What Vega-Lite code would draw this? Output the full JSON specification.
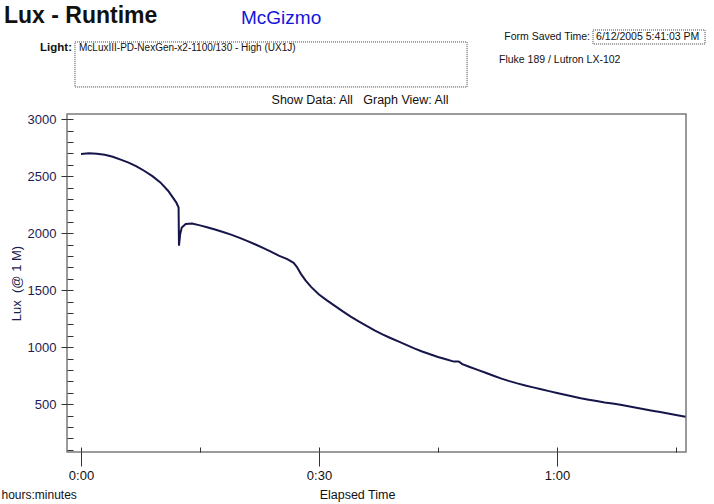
{
  "$schema": "https://vega.github.io/schema/vega-lite/v6.json",
  "width": 619,
  "height": 338,
  "autosize": "none",
  "padding": {"left": 67, "top": 114, "right": 28, "bottom": 52},
  "background": "white",
  "config": {
    "font": "Liberation Sans",
    "view": {"stroke": "#7a7a7a", "strokeWidth": 1.5},
    "axis": {"grid": false, "domain": false, "labelFont": "Liberation Sans", "titleFont": "Liberation Sans"}
  },
  "datasets": {
    "curve": [
      {"minute": 0, "lux": 2695}, {"minute": 1, "lux": 2700}, {"minute": 2, "lux": 2697},
      {"minute": 3, "lux": 2688}, {"minute": 4, "lux": 2670}, {"minute": 5, "lux": 2645},
      {"minute": 6, "lux": 2618}, {"minute": 7, "lux": 2585}, {"minute": 8, "lux": 2545},
      {"minute": 9, "lux": 2500}, {"minute": 10, "lux": 2445}, {"minute": 11, "lux": 2370},
      {"minute": 12, "lux": 2270}, {"minute": 12.3, "lux": 2225}, {"minute": 12.35, "lux": 1890},
      {"minute": 12.5, "lux": 1990}, {"minute": 12.7, "lux": 2050}, {"minute": 13.2, "lux": 2080},
      {"minute": 14, "lux": 2085}, {"minute": 15, "lux": 2068}, {"minute": 16, "lux": 2050},
      {"minute": 17, "lux": 2030}, {"minute": 18, "lux": 2008}, {"minute": 19, "lux": 1985},
      {"minute": 20, "lux": 1958}, {"minute": 21, "lux": 1930}, {"minute": 22, "lux": 1900},
      {"minute": 23, "lux": 1868}, {"minute": 24, "lux": 1835}, {"minute": 25, "lux": 1800},
      {"minute": 26, "lux": 1772}, {"minute": 26.8, "lux": 1740}, {"minute": 27.2, "lux": 1705},
      {"minute": 27.7, "lux": 1645}, {"minute": 28.3, "lux": 1585}, {"minute": 29, "lux": 1528},
      {"minute": 30, "lux": 1462}, {"minute": 31, "lux": 1410}, {"minute": 32, "lux": 1362},
      {"minute": 33, "lux": 1313}, {"minute": 34, "lux": 1268}, {"minute": 35, "lux": 1226},
      {"minute": 36, "lux": 1187}, {"minute": 37, "lux": 1147}, {"minute": 38, "lux": 1112},
      {"minute": 39, "lux": 1080}, {"minute": 40, "lux": 1050}, {"minute": 41, "lux": 1020},
      {"minute": 42, "lux": 989}, {"minute": 43, "lux": 962}, {"minute": 44, "lux": 937},
      {"minute": 45, "lux": 914}, {"minute": 46, "lux": 893}, {"minute": 47, "lux": 873},
      {"minute": 47.6, "lux": 874}, {"minute": 47.9, "lux": 860},
      {"minute": 48, "lux": 853}, {"minute": 49, "lux": 826}, {"minute": 50, "lux": 800},
      {"minute": 51, "lux": 775}, {"minute": 52, "lux": 749}, {"minute": 53, "lux": 724},
      {"minute": 54, "lux": 702}, {"minute": 55, "lux": 682}, {"minute": 56, "lux": 664},
      {"minute": 57, "lux": 647}, {"minute": 58, "lux": 630}, {"minute": 59, "lux": 614},
      {"minute": 60, "lux": 598}, {"minute": 61, "lux": 583}, {"minute": 62, "lux": 567},
      {"minute": 63, "lux": 552}, {"minute": 64, "lux": 539}, {"minute": 65, "lux": 527},
      {"minute": 66, "lux": 515}, {"minute": 67, "lux": 505}, {"minute": 68, "lux": 494},
      {"minute": 69, "lux": 481}, {"minute": 70, "lux": 468}, {"minute": 71, "lux": 455},
      {"minute": 72, "lux": 442}, {"minute": 73, "lux": 430}, {"minute": 74, "lux": 417},
      {"minute": 75, "lux": 404}, {"minute": 76.2, "lux": 390}
    ]
  },
  "resolve": {"axis": {"x": "independent", "y": "independent"}},
  "layer": [
    {
      "data": {"name": "curve"},
      "mark": {"type": "line", "color": "#15154a", "strokeWidth": 2, "clip": true},
      "encoding": {
        "x": {
          "field": "minute", "type": "quantitative",
          "scale": {"domain": [-1.765, 76.26], "nice": false, "zero": false},
          "axis": {
            "orient": "bottom", "values": [0, 15, 30, 45, 60, 75], "tickSize": -5,
            "tickColor": "#333", "labels": false, "title": "hours:minutes",
            "titleFontSize": 12, "titleFontWeight": "normal", "titleColor": "#111",
            "titleAnchor": "start", "titleAlign": "left", "titleX": -66, "titleY": 42, "titleBaseline": "middle"
          }
        },
        "y": {
          "field": "lux", "type": "quantitative",
          "scale": {"domain": [80, 3045], "nice": false, "zero": false},
          "axis": {
            "orient": "left", "values": [100, 200, 300, 400, 500, 600, 700, 800, 900, 1000, 1100, 1200, 1300, 1400, 1500, 1600, 1700, 1800, 1900, 2000, 2100, 2200, 2300, 2400, 2500, 2600, 2700, 2800, 2900, 3000],
            "tickSize": -6, "tickColor": "#333", "labels": false, "title": null
          }
        }
      }
    },
    {
      "data": {"name": "curve"},
      "mark": {"type": "point", "opacity": 0},
      "encoding": {
        "x": {
          "field": "minute", "type": "quantitative",
          "axis": {
            "orient": "bottom", "values": [0, 30, 60], "tickSize": 14, "tickColor": "#333",
            "labelExpr": "floor(datum.value/60) + ':' + (datum.value % 60 < 10 ? '0' : '') + (datum.value % 60)",
            "labelFontSize": 13, "labelColor": "#111", "labelPadding": 3,
            "title": "Elapsed Time", "titleFontSize": 12.5, "titleFontWeight": "normal", "titleColor": "#111",
            "titleAnchor": "start", "titleAlign": "center", "titleX": 290, "titleY": 42, "titleBaseline": "middle"
          }
        },
        "y": {
          "field": "lux", "type": "quantitative",
          "axis": {
            "orient": "left", "values": [500, 1000, 1500, 2000, 2500, 3000], "tickSize": 6, "tickColor": "#333",
            "format": "d",
            "labelFontSize": 13, "labelColor": "#1c1c50", "labelPadding": 5,
            "title": "Lux\u00a0\u00a0(@ 1 M)", "titleFontSize": 13, "titleFontWeight": "normal", "titleColor": "#1c1c50",
            "titlePadding": 4
          }
        }
      }
    },
    {
      "data": {"values": [{"label": "Lux - Runtime"}]},
      "mark": {"type": "text", "align": "left", "baseline": "middle", "fontSize": 23, "fontWeight": "bold", "color": "#111"},
      "encoding": {
        "text": {"field": "label"},
        "x": {"datum": -9.71, "type": "quantitative", "axis": null},
        "y": {"datum": 3905, "type": "quantitative", "axis": null}
      }
    },
    {
      "data": {"values": [{"label": "McGizmo"}]},
      "mark": {"type": "text", "align": "left", "baseline": "middle", "fontSize": 19, "color": "#1414dc"},
      "encoding": {
        "text": {"field": "label"},
        "x": {"datum": 20.17, "type": "quantitative", "axis": null},
        "y": {"datum": 3887, "type": "quantitative", "axis": null}
      }
    },
    {
      "data": {"values": [{"label": "Light:"}]},
      "mark": {"type": "text", "align": "right", "baseline": "middle", "fontSize": 11.5, "fontWeight": "bold", "color": "#111"},
      "encoding": {
        "text": {"field": "label"},
        "x": {"datum": -1.13, "type": "quantitative", "axis": null},
        "y": {"datum": 3624, "type": "quantitative", "axis": null}
      }
    },
    {
      "data": {"values": [{"box": "light"}]},
      "mark": {"type": "rect", "fill": null, "stroke": "#444", "strokeWidth": 1, "strokeDash": [1, 1]},
      "encoding": {
        "x": {"datum": -0.76, "type": "quantitative", "axis": null},
        "x2": {"datum": 48.66},
        "y": {"datum": 3677, "type": "quantitative", "axis": null},
        "y2": {"datum": 3282}
      }
    },
    {
      "data": {"values": [{"label": "McLuxIII-PD-NexGen-x2-1100/130 - High (UX1J)"}]},
      "mark": {"type": "text", "align": "left", "baseline": "middle", "fontSize": 10, "color": "#111"},
      "encoding": {
        "text": {"field": "label"},
        "x": {"datum": -0.25, "type": "quantitative", "axis": null},
        "y": {"datum": 3624, "type": "quantitative", "axis": null}
      }
    },
    {
      "data": {"values": [{"label": "Form Saved Time:"}]},
      "mark": {"type": "text", "align": "right", "baseline": "middle", "fontSize": 10.5, "color": "#111"},
      "encoding": {
        "text": {"field": "label"},
        "x": {"datum": 64.16, "type": "quantitative", "axis": null},
        "y": {"datum": 3720, "type": "quantitative", "axis": null}
      }
    },
    {
      "data": {"values": [{"box": "time"}]},
      "mark": {"type": "rect", "fill": null, "stroke": "#444", "strokeWidth": 1, "strokeDash": [1, 1]},
      "encoding": {
        "x": {"datum": 64.54, "type": "quantitative", "axis": null},
        "x2": {"datum": 78.66},
        "y": {"datum": 3782, "type": "quantitative", "axis": null},
        "y2": {"datum": 3659}
      }
    },
    {
      "data": {"values": [{"label": "6/12/2005 5:41:03 PM"}]},
      "mark": {"type": "text", "align": "left", "baseline": "middle", "fontSize": 10.5, "color": "#111"},
      "encoding": {
        "text": {"field": "label"},
        "x": {"datum": 64.92, "type": "quantitative", "axis": null},
        "y": {"datum": 3720, "type": "quantitative", "axis": null}
      }
    },
    {
      "data": {"values": [{"label": "Fluke 189 / Lutron LX-102"}]},
      "mark": {"type": "text", "align": "left", "baseline": "middle", "fontSize": 10.5, "color": "#111"},
      "encoding": {
        "text": {"field": "label"},
        "x": {"datum": 52.69, "type": "quantitative", "axis": null},
        "y": {"datum": 3519, "type": "quantitative", "axis": null}
      }
    },
    {
      "data": {"values": [{"label": "Show Data: All\u00a0\u00a0 Graph View: All"}]},
      "mark": {"type": "text", "align": "center", "baseline": "middle", "fontSize": 12.5, "color": "#111"},
      "encoding": {
        "text": {"field": "label"},
        "x": {"datum": 35.17, "type": "quantitative", "axis": null},
        "y": {"datum": 3168, "type": "quantitative", "axis": null}
      }
    }
  ]
}
